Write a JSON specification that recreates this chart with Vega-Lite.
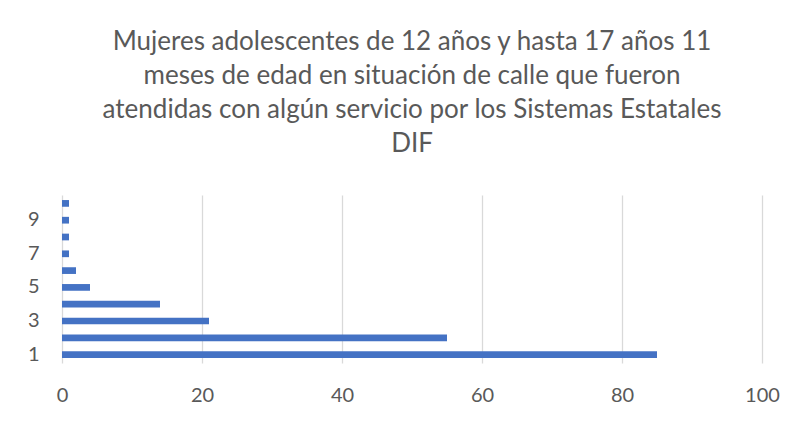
{
  "$schema": "https://vega.github.io/schema/vega-lite/v6.json",
  "autosize": "none",
  "width": 700,
  "height": 168,
  "padding": {"left": 62, "top": 195, "right": 47, "bottom": 58},
  "background": "white",
  "title": {
    "text": ["Mujeres adolescentes de 12 años y hasta 17 años 11", "meses de edad en situación de calle que fueron", "atendidas con algún servicio por los Sistemas Estatales", "DIF"],
    "font": "Lato",
    "fontSize": 26,
    "fontWeight": "normal",
    "color": "#595959",
    "lineHeight": 34,
    "anchor": "middle",
    "frame": "group",
    "offset": 38
  },
  "data": {
    "values": [
      {"categoria": 1, "valor": 85},
      {"categoria": 2, "valor": 55},
      {"categoria": 3, "valor": 21},
      {"categoria": 4, "valor": 14},
      {"categoria": 5, "valor": 4},
      {"categoria": 6, "valor": 2},
      {"categoria": 7, "valor": 1},
      {"categoria": 8, "valor": 1},
      {"categoria": 9, "valor": 1},
      {"categoria": 10, "valor": 1}
    ]
  },
  "mark": {"type": "bar", "color": "#4472C4"},
  "encoding": {
    "y": {
      "field": "categoria",
      "type": "ordinal",
      "sort": "descending",
      "scale": {"paddingInner": 0.6, "paddingOuter": 0.3},
      "axis": {
        "title": null,
        "values": [1, 3, 5, 7, 9],
        "domain": false,
        "ticks": false,
        "grid": false,
        "labelFont": "Lato",
        "labelFontSize": 20,
        "labelColor": "#595959",
        "labelPadding": 23,
        "labelAngle": 0
      }
    },
    "x": {
      "field": "valor",
      "type": "quantitative",
      "scale": {"domain": [0, 100], "nice": false},
      "axis": {
        "title": null,
        "values": [0, 20, 40, 60, 80, 100],
        "domain": false,
        "ticks": false,
        "grid": true,
        "gridColor": "#d9d9d9",
        "gridWidth": 1.3,
        "labelFont": "Lato",
        "labelFontSize": 20,
        "labelColor": "#595959",
        "labelPadding": 22,
        "labelFlush": false
      }
    }
  },
  "config": {"view": {"stroke": null}}
}
